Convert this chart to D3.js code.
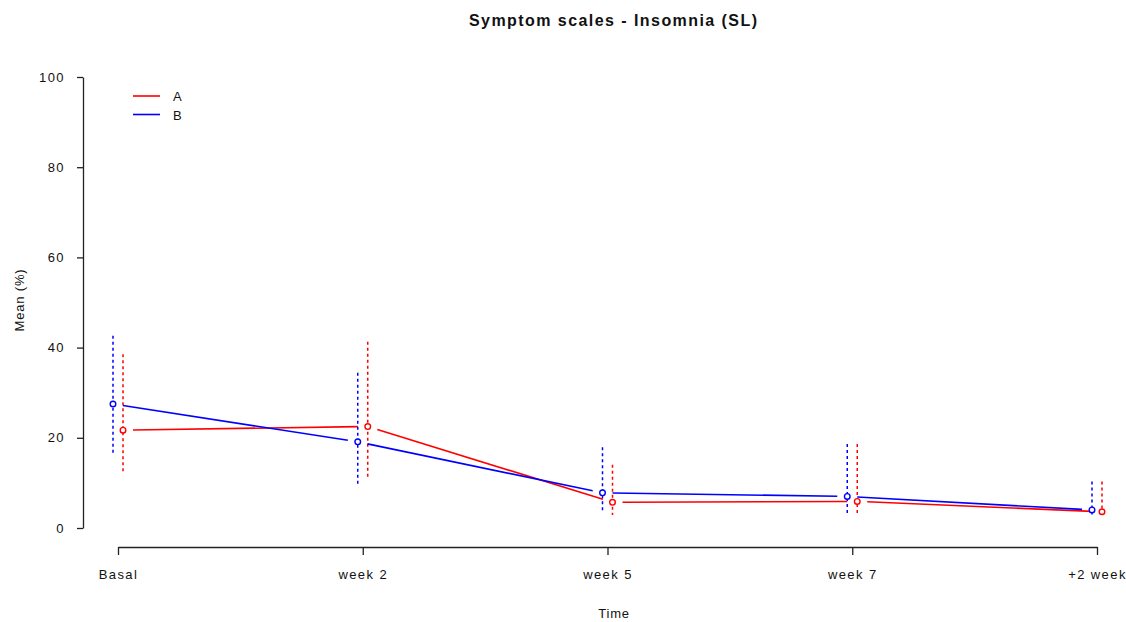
<!DOCTYPE html>
<html>
<head>
<meta charset="utf-8">
<script src="https://cdn.jsdelivr.net/npm/d3@7"></script>
<style>
  body { margin: 0; background: #fff; }
  svg { display: block; }
  text { font-family: "Liberation Sans", Arial, sans-serif; fill: #111; }
</style>
</head>
<body>
<svg id="chart" width="1126" height="622"></svg>
<script>
const categories = ["Basal", "week 2", "week 5", "week 7", "+2 week"];
const seriesNames = ["A", "B"];
const meanA = [21.7, 22.5, 5.7, 5.9, 3.6];
const lowA  = [12.1, 11.0, 2.9, 2.9, 2.4];
const highA = [38.5, 41.3, 14.0, 18.6, 10.3];
const meanB = [27.5, 19.1, 7.8, 7.0, 4.0];
const lowB  = [16.2, 9.7, 3.3, 2.7, 2.5];
const highB = [42.6, 34.4, 17.9, 18.6, 10.3];
const yTicks = [0, 20, 40, 60, 80, 100];

const series = [
  { name: seriesNames[0], color: "#ff0000", offset: 5, mean: meanA, low: lowA, high: highA },
  { name: seriesNames[1], color: "#0000ff", offset: -5, mean: meanB, low: lowB, high: highB }
];

const svg = d3.select("#chart");
const x = d3.scalePoint().domain(categories).range([118, 1097]);
const y = d3.scaleLinear().domain([0, 100]).range([528, 77]);

// axes
const yAxis = svg.append("g").attr("transform", "translate(83,0)")
  .call(d3.axisLeft(y).tickValues(yTicks).tickSize(6).tickSizeOuter(0).tickPadding(12));
const xAxis = svg.append("g").attr("transform", "translate(0,547)")
  .call(d3.axisBottom(x).tickSize(8).tickSizeOuter(0).tickPadding(15));
[yAxis, xAxis].forEach(g => {
  g.selectAll("path, line").attr("stroke", "#222").attr("stroke-width", 1.3);
  g.selectAll("text").style("font-size", "13px").style("letter-spacing", "1.4px")
    .attr("font-family", null).attr("fill", "#111");
});

// titles
svg.append("text").attr("x", 613).attr("y", 26).attr("text-anchor", "middle")
  .attr("textLength", 288).attr("lengthAdjust", "spacing")
  .style("font-size", "16px").style("font-weight", "bold")
  .text("Symptom scales - Insomnia (SL)");
svg.append("text").attr("x", 614).attr("y", 618).attr("text-anchor", "middle")
  .style("font-size", "13px").style("letter-spacing", "0.8px").text("Time");
svg.append("text").attr("transform", "translate(24,300) rotate(-90)").attr("text-anchor", "middle")
  .style("font-size", "13px").style("letter-spacing", "0.8px").text("Mean (%)");

const gap = 10;
series.forEach(s => {
  const pts = categories.map((c, i) => ({ x: x(c) + s.offset, y: y(s.mean[i]), lo: y(s.low[i]), hi: y(s.high[i]) }));
  const g = svg.append("g");
  // error bars
  g.selectAll("line.err").data(pts).enter().append("line")
    .attr("x1", d => d.x).attr("x2", d => d.x)
    .attr("y1", d => d.hi).attr("y2", d => d.lo)
    .attr("stroke", s.color).attr("stroke-width", 1.5).attr("stroke-dasharray", "3,3");
  // connecting segments with gaps (type "b")
  const segs = d3.pairs(pts).map(([a, b]) => {
    const dx = b.x - a.x, dy = b.y - a.y, L = Math.hypot(dx, dy);
    const ux = dx / L, uy = dy / L;
    return { x1: a.x + ux * gap, y1: a.y + uy * gap, x2: b.x - ux * gap, y2: b.y - uy * gap };
  });
  g.selectAll("line.seg").data(segs).enter().append("line")
    .attr("x1", d => d.x1).attr("y1", d => d.y1).attr("x2", d => d.x2).attr("y2", d => d.y2)
    .attr("stroke", s.color).attr("stroke-width", 1.6);
  g.selectAll("circle").data(pts).enter().append("circle")
    .attr("cx", d => d.x).attr("cy", d => d.y).attr("r", 2.8)
    .attr("fill", "#fff").attr("stroke", s.color).attr("stroke-width", 1.4);
});

// legend
const leg = svg.append("g");
series.forEach((s, i) => {
  const ly = 96 + i * 18.5;
  leg.append("line").attr("x1", 133).attr("x2", 160).attr("y1", ly).attr("y2", ly)
    .attr("stroke", s.color).attr("stroke-width", 1.6);
  leg.append("text").attr("x", 173).attr("y", ly + 5).style("font-size", "13px").text(s.name);
});
</script>
</body>
</html>
